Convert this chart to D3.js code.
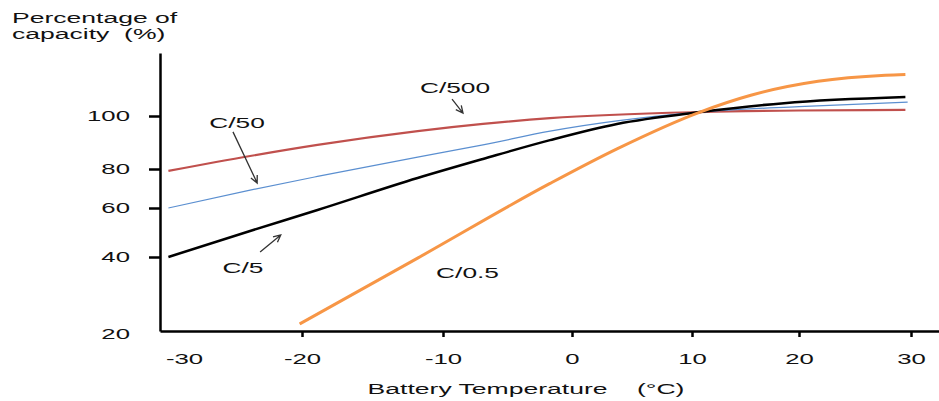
<!DOCTYPE html>
<html>
<head>
<meta charset="utf-8">
<script src="https://cdn.jsdelivr.net/npm/d3@7/dist/d3.min.js"></script>
<style>
body { margin: 0; background: #fff; }
svg text { font-family: "Liberation Sans", Arial, sans-serif; fill: #111; white-space: pre; }
</style>
</head>
<body>
<svg id="chart"></svg>
<script>
// values
var xTicks = [-30, -20, -10, 0, 10, 20, 30];
var yTicks = [20, 40, 60, 80, 100];

var c500Temp = [-31.3, -24.4, -18.9, -11.8, -6.9, -1.7, 10.75, 20, 29.5];
var c500Cap = [79, 84.9, 89.1, 94.3, 97.0, 99.2, 101.5, 102.1, 102.3];

var c50Temp = [-31.3, -24.4, -18.9, -11.8, -6.9, -1.7, 10.75, 20, 29.7];
var c50Cap = [60, 69.2, 76.2, 84.5, 89.1, 94.3, 101.5, 103.6, 105.3];

var c5Temp = [-31.3, -24.4, -18.9, -11.8, -6.9, -1.7, 3.75, 10.75, 18.6, 29.5];
var c5Cap = [40, 50.6, 59.2, 75.4, 83.8, 90.9, 97, 101.5, 104.9, 107.2];

var c05Temp = [-20.2, -11.8, -1.7, 3.75, 10.75, 15.5, 21.7, 27.7, 29.5];
var c05Cap = [21.9, 39.7, 72.6, 87.6, 101.5, 107.9, 113.2, 115.5, 115.8];

var width = 939;
var height = 401;

var svg = d3.select("#chart")
    .attr("width", width)
    .attr("height", height);

// the original axes are not evenly spaced, so use piecewise scales
var x = d3.scaleLinear()
    .domain([-32, -30, -20, -10, 0, 10, 20, 30, 32.5])
    .range([160, 184, 302, 443, 572, 692, 799, 911, 939]);

var y = d3.scaleLinear()
    .domain([20, 40, 60, 80, 100, 124])
    .range([331, 257, 208, 169, 116, 53]);

// text in the picture is stretched sideways
function stretch(sel, sx) {
    sel.each(function () {
        var t = d3.select(this);
        var tx = +t.attr("x") || 0;
        var ty = +t.attr("y") || 0;
        t.attr("x", 0).attr("y", 0)
            .attr("transform", "translate(" + tx + "," + ty + ") scale(" + sx + ",1)");
    });
}

var series = [
    { name: "C/500", temp: c500Temp, cap: c500Cap, color: "#c0504d", w: 2.2 },
    { name: "C/50", temp: c50Temp, cap: c50Cap, color: "#5b8fd0", w: 1.2 },
    { name: "C/5", temp: c5Temp, cap: c5Cap, color: "#000000", w: 2.5 },
    { name: "C/0.5", temp: c05Temp, cap: c05Cap, color: "#f79646", w: 3 }
];

var line = d3.line()
    .x(function (d) { return x(d[0]); })
    .y(function (d) { return y(d[1]); })
    .curve(d3.curveMonotoneX);

svg.selectAll("path.series")
    .data(series)
    .enter()
    .append("path")
    .attr("class", "series")
    .attr("fill", "none")
    .attr("stroke", function (d) { return d.color; })
    .attr("stroke-width", function (d) { return d.w; })
    .attr("d", function (d) {
        var pts = [];
        for (var i = 0; i < d.temp.length; i++) {
            pts.push([d.temp[i], d.cap[i]]);
        }
        return line(pts);
    });

// axes
var plain = function (d) { return String(d); };

var xAxis = svg.append("g")
    .attr("transform", "translate(0," + y(20) + ")")
    .call(d3.axisBottom(x).tickValues(xTicks).tickFormat(plain)
        .tickSize(6).tickSizeOuter(0).tickPadding(17));

var yAxis = svg.append("g")
    .attr("transform", "translate(" + x(-32) + ",0)")
    .call(d3.axisLeft(y).tickValues(yTicks).tickFormat(plain)
        .tickSize(11).tickSizeOuter(0).tickPadding(19));

[xAxis, yAxis].forEach(function (ax) {
    ax.select(".domain").attr("stroke", "#000").attr("stroke-width", 2.5);
    ax.selectAll(".tick line").attr("stroke", "#000").attr("stroke-width", 2.5);
    ax.selectAll(".tick text")
        .attr("font-size", 14)
        .attr("fill", "#111");
    stretch(ax.selectAll(".tick text"), 1.84);
});

xAxis.selectAll(".tick").filter(function (d) { return d === -30; }).select("line").remove();
yAxis.selectAll(".tick").filter(function (d) { return d === 20; }).select("line").remove();
yAxis.selectAll(".tick").filter(function (d) { return d === 20; }).select("text")
    .attr("transform", function () {
        return d3.select(this).attr("transform").replace("translate(-30,0)", "translate(-30,3)");
    });

// titles
var titles = svg.append("g");
titles.append("text").attr("x", 12).attr("y", 23).attr("font-size", 15).text("Percentage of");
titles.append("text").attr("x", 12).attr("y", 39).attr("font-size", 15).text("capacity  (%)");
titles.append("text").attr("x", 526).attr("y", 394).attr("font-size", 15)
    .attr("text-anchor", "middle").text("Battery Temperature    (°C)");
stretch(titles.selectAll("text"), 1.77);

// series labels with arrows, in data units
var labels = [
    { text: "C/500", lx: -9.07, ly: 110.6, from: [-9.3, 106.4], to: [-8.45, 101.1] },
    { text: "C/50", lx: -25.5, ly: 97.4, from: [-25.85, 94], to: [-23.8, 72.8] },
    { text: "C/5", lx: -25.0, ly: 37.0, from: [-23.55, 42.0], to: [-21.8, 49.0] },
    { text: "C/0.5", lx: -8.1, ly: 35.7, from: null, to: null }
];

var ann = svg.append("g");
ann.selectAll("text")
    .data(labels)
    .enter()
    .append("text")
    .attr("x", function (d) { return x(d.lx); })
    .attr("y", function (d) { return y(d.ly) + 5; })
    .attr("text-anchor", "middle")
    .attr("font-size", 14)
    .text(function (d) { return d.text; });
stretch(ann.selectAll("text"), 1.88);

labels.forEach(function (d) {
    if (!d.from) return;
    var x1 = x(d.from[0]), y1 = y(d.from[1]);
    var x2 = x(d.to[0]), y2 = y(d.to[1]);
    var a = Math.atan2(y2 - y1, x2 - x1);
    var len = 8, spread = 0.45;
    var p = "M" + x1 + "," + y1 + "L" + x2 + "," + y2 +
        "M" + (x2 - len * Math.cos(a - spread)) + "," + (y2 - len * Math.sin(a - spread)) +
        "L" + x2 + "," + y2 +
        "L" + (x2 - len * Math.cos(a + spread)) + "," + (y2 - len * Math.sin(a + spread));
    svg.append("path")
        .attr("d", p)
        .attr("fill", "none")
        .attr("stroke", "#333")
        .attr("stroke-width", 1.3);
});
</script>
</body>
</html>
